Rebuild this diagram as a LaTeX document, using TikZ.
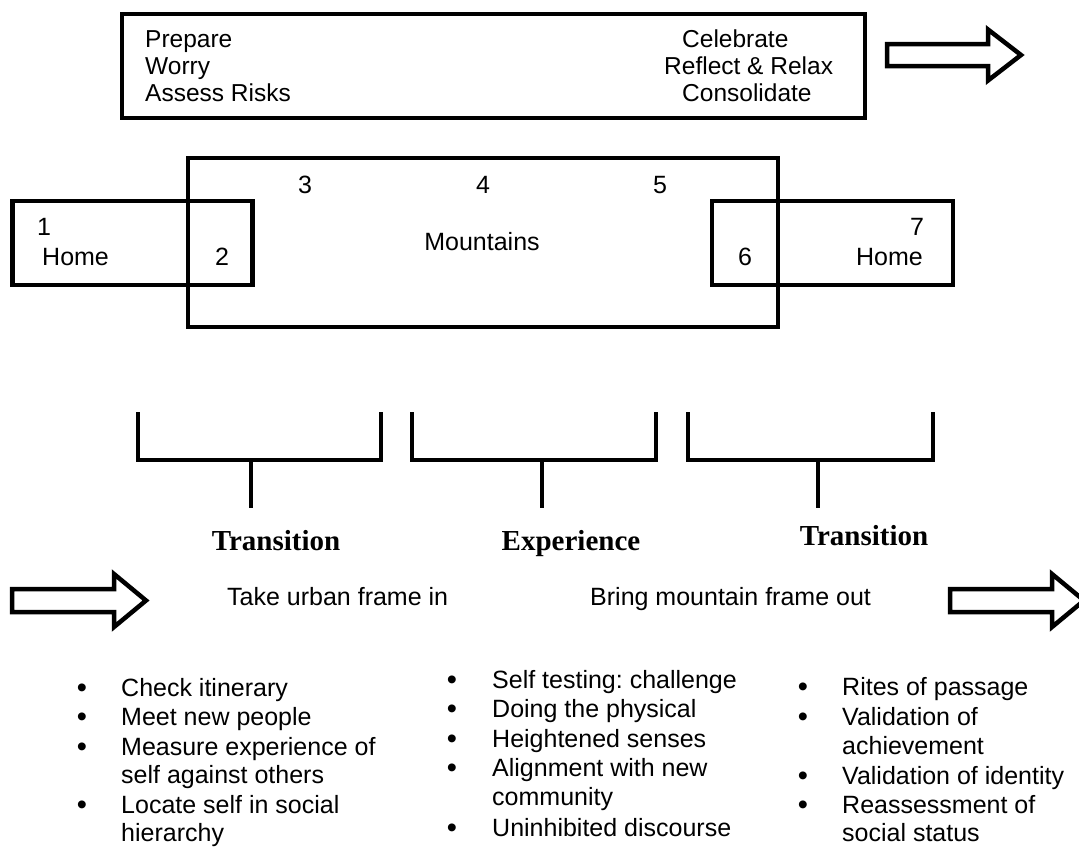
\documentclass[tikz,border=0pt]{standalone}
\usepackage{fontspec}
\setmainfont{Liberation Sans}
\newfontfamily\titlefont{Liberation Serif}
\frenchspacing
\begin{document}
\begin{tikzpicture}[x=1pt,y=-1pt,
  box/.style={draw, line width=4.5pt, inner sep=0pt, line join=miter},
  txt/.style={font=\fontsize{25}{30}\selectfont, inner sep=0pt, anchor=base west},
  ctxt/.style={font=\fontsize{25}{30}\selectfont, inner sep=0pt, anchor=base},
  toptxt/.style={font=\fontsize{24.5}{30}\selectfont, inner sep=0pt, anchor=base west},
  ttl/.style={font=\titlefont\bfseries\fontsize{29}{34}\selectfont, inner sep=0pt, anchor=base},
  bul/.style={font=\fontsize{29}{30}\selectfont, inner sep=0pt, anchor=base},
  fatarrow/.style={draw, line width=4.5pt, line join=miter, fill=white},
  bracketline/.style={draw, line width=4pt, line join=miter}]
\useasboundingbox[fill=white] (0,0) rectangle (1079,847);

% ---- top box ----
\node[box, minimum width=743pt, minimum height=104pt] (topbox) at (493.5,66) {};
\node[toptxt] (prep) at (145,47) {Prepare};
\node[toptxt] (worry) at (145,74) {Worry};
\node[toptxt] (risk) at (145,101) {Assess Risks};
\node[toptxt] (celeb) at (682,47) {Celebrate};
\node[toptxt] (refl) at (664,74) {Reflect \& Relax};
\node[toptxt] (cons) at (682,101) {Consolidate};

% top arrow
\draw[fatarrow] (887,44) -- (988,44) -- (988,29.5) -- (1021,55) -- (988,80.5) -- (988,66) -- (887,66) -- cycle;

% ---- middle boxes ----
\node[box, minimum width=590pt, minimum height=169pt] (mount) at (483,242.5) {};
\node[box, minimum width=240pt, minimum height=84pt] (homeL) at (132.5,243) {};
\node[box, minimum width=241pt, minimum height=84pt] (homeR) at (832.5,243) {};

\node[txt] (n1) at (37,235) {1};
\node[txt] (homeLt) at (42,265) {Home};
\node[ctxt] (n2) at (222,265) {2};
\node[ctxt] (n3) at (305,193) {3};
\node[ctxt] (n4) at (483,193) {4};
\node[ctxt] (n5) at (660,193) {5};
\node[ctxt] (mountt) at (482,250) {Mountains};
\node[ctxt] (n6) at (745,265) {6};
\node[ctxt] (n7) at (917,235) {7};
\node[txt, anchor=base east] (homeRt) at (923,265) {Home};

% ---- brackets ----
\draw[bracketline] (138,412) -- (138,460) -- (381,460) -- (381,412);
\draw[bracketline] (251,460) -- (251,508);
\draw[bracketline] (412,412) -- (412,460) -- (656,460) -- (656,412);
\draw[bracketline] (542,460) -- (542,508);
\draw[bracketline] (688,412) -- (688,460) -- (933,460) -- (933,412);
\draw[bracketline] (818,460) -- (818,508);

% ---- phase titles ----
\node[ttl] (trans1) at (276,550) {Transition};
\node[ttl] (exper) at (571,550) {Experience};
\node[ttl] (trans2) at (864,545) {Transition};

% ---- middle arrows and texts ----
\draw[fatarrow] (12,589) -- (114,589) -- (114,574) -- (146,600.5) -- (114,627) -- (114,612) -- (12,612) -- cycle;
\draw[fatarrow] (950,589) -- (1052,589) -- (1052,574) -- (1084,600.5) -- (1052,627) -- (1052,612) -- (950,612) -- cycle;
\node[txt] (urban) at (227,605) {Take urban frame in};
\node[txt] (bring) at (590,605) {Bring mountain frame out};

% ---- column 1 ----
\node[bul] (b1a) at (82,697) {•};
\node[txt] (t1a) at (121,696) {Check itinerary};
\node[bul] (b1b) at (82,726) {•};
\node[txt] (t1b) at (121,725) {Meet new people};
\node[bul] (b1c) at (82,756) {•};
\node[txt] (t1c) at (121,755) {Measure experience of};
\node[txt] (t1d) at (121,783) {self against others};
\node[bul] (b1e) at (82,814) {•};
\node[txt] (t1e) at (121,813) {Locate self in social};
\node[txt] (t1f) at (121,841) {hierarchy};

% ---- column 2 ----
\node[bul] (b2a) at (452,689) {•};
\node[txt] (t2a) at (492,688) {Self testing: challenge};
\node[bul] (b2b) at (452,718) {•};
\node[txt] (t2b) at (492,717) {Doing the physical};
\node[bul] (b2c) at (452,748) {•};
\node[txt] (t2c) at (492,747) {Heightened senses};
\node[bul] (b2d) at (452,777) {•};
\node[txt] (t2d) at (492,776) {Alignment with new};
\node[txt] (t2e) at (492,805) {community};
\node[bul] (b2f) at (452,837) {•};
\node[txt] (t2f) at (492,836) {Uninhibited discourse};

% ---- column 3 ----
\node[bul] (b3a) at (803,696) {•};
\node[txt] (t3a) at (842,695) {Rites of passage};
\node[bul] (b3b) at (803,726) {•};
\node[txt] (t3b) at (842,725) {Validation of};
\node[txt] (t3c) at (842,754) {achievement};
\node[bul] (b3d) at (803,785) {•};
\node[txt] (t3d) at (842,784) {Validation of identity};
\node[bul] (b3e) at (803,814) {•};
\node[txt] (t3e) at (842,813) {Reassessment of};
\node[txt] (t3f) at (842,841) {social status};
\end{tikzpicture}
\end{document}
